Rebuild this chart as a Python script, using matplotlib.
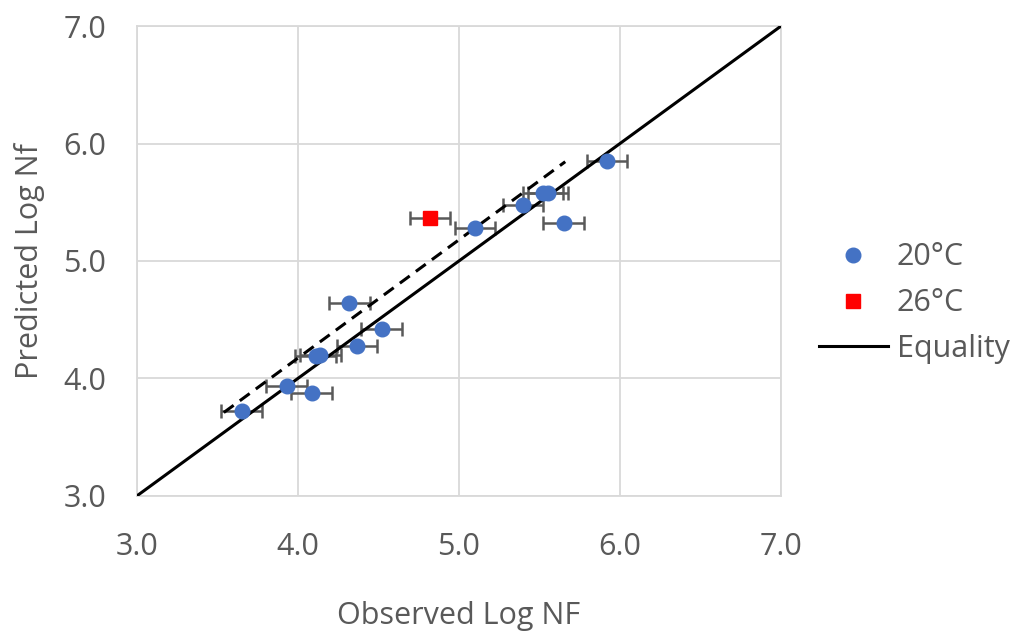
import matplotlib.pyplot as plt
import numpy as np

plt.rcParams['font.family'] = ['Open Sans', 'DejaVu Sans']

# 20°C data (observed, predicted)
obs_20 = [3.65, 3.93, 4.085, 4.11, 4.14, 4.365, 4.52, 4.32, 5.10, 5.40, 5.52, 5.555, 5.65, 5.92]
pred_20 = [3.72, 3.94, 3.88, 4.19, 4.20, 4.28, 4.42, 4.64, 5.28, 5.48, 5.575, 5.575, 5.32, 5.85]
# 26°C data
obs_26 = [4.82]
pred_26 = [5.37]
xerr = 0.125

# equality and fitted (dashed) lines
eq_x = [3.0, 7.0]
eq_y = [3.0, 7.0]
fit_x = [3.54, 5.66]
fit_y = [3.71, 5.845]

ticks = [3.0, 4.0, 5.0, 6.0, 7.0]
grey = '#595959'

fig = plt.figure(figsize=(10.21, 6.35), dpi=100)
ax = fig.add_axes([0.134, 0.219, 0.631, 0.740])

ax.errorbar(obs_20, pred_20, xerr=xerr, fmt='none', ecolor=grey, elinewidth=1.8,
            capsize=5, capthick=1.8, zorder=2)
ax.errorbar(obs_26, pred_26, xerr=xerr, fmt='none', ecolor=grey, elinewidth=1.8,
            capsize=5, capthick=1.8, zorder=2)
ax.plot(eq_x, eq_y, color='black', lw=2.2, zorder=3, label='Equality')
ax.plot(fit_x, fit_y, color='black', lw=2.2, ls=(0, (4, 2.5)), zorder=3)
ax.plot(obs_20, pred_20, 'o', color='#4472C4', ms=10.5, zorder=4, label='20°C')
ax.plot(obs_26, pred_26, 's', color='#FF0000', ms=9.5, zorder=4, label='26°C')

ax.set_xlim(3, 7)
ax.set_ylim(3, 7)
ax.set_xticks(ticks)
ax.set_yticks(ticks)
ax.set_xticklabels(['%.1f' % t for t in ticks])
ax.set_yticklabels(['%.1f' % t for t in ticks])
ax.grid(True, color='#d9d9d9', lw=1.3)
ax.set_axisbelow(True)
for s in ax.spines.values():
    s.set_color('#d9d9d9')
    s.set_linewidth(1.3)
ax.tick_params(length=0, labelsize=22, colors=grey)
ax.tick_params(axis='x', pad=26)
ax.tick_params(axis='y', pad=22)
ax.set_xlabel('Observed Log NF', fontsize=22, color=grey, labelpad=28)
ax.set_ylabel('Predicted Log Nf', fontsize=22, color=grey, labelpad=13)

h, l = ax.get_legend_handles_labels()
order = [1, 2, 0]
leg = ax.legend([h[i] for i in order], [l[i] for i in order], loc='center left',
                bbox_to_anchor=(1.059, 0.41), frameon=False, fontsize=22,
                borderaxespad=0, borderpad=0,
                handlelength=2.25, handletextpad=0.3, labelspacing=0.52)
for t in leg.get_texts():
    t.set_color(grey)

fig.savefig('out.png', dpi=100)
